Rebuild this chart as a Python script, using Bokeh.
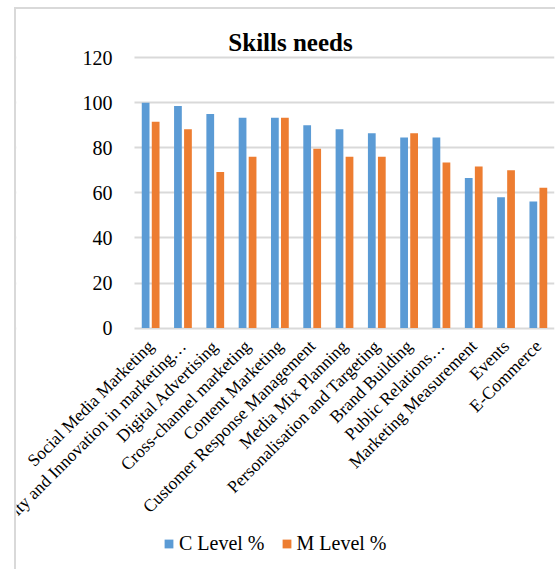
from bokeh.plotting import figure
from bokeh.models import (ColumnDataSource, Range1d, FixedTicker, Legend, LegendItem,
                          BoxAnnotation, Label)
from bokeh.embed import file_html
from bokeh.resources import INLINE
from math import pi

categories = [
    "Social Media Marketing",
    "Creativity and Innovation in marketing\u2026",
    "Digital Advertising",
    "Cross-channel marketing",
    "Content Marketing",
    "Customer Response Management",
    "Media Mix Planning",
    "Personalisation and Targeting",
    "Brand Building",
    "Public Relations\u2026",
    "Marketing Measurement",
    "Events",
    "E-Commerce",
]
c_level = [100, 98.5, 95, 93.3, 93.3, 90, 88.2, 86.4, 84.6, 84.6, 66.6, 58, 56.2]
m_level = [91.6, 88.2, 69.2, 76, 93.3, 79.6, 76, 76, 86.4, 73.5, 71.7, 70, 62.3]
y_ticks = [0, 20, 40, 60, 80, 100, 120]

FONT = "Liberation Serif"
BLUE = "#5B9BD5"
ORANGE = "#ED7D31"
GRID = "#d9d9d9"

# one slot per category, centred on its index
idx = list(range(len(categories)))
source = ColumnDataSource(dict(
    xc=[i - 0.155 for i in idx], xm=[i + 0.155 for i in idx],
    c=c_level, m=m_level,
))

# The plot area fills the whole canvas so that the title, the rotated
# category labels and the legend can all live inside it; both axes are
# pinned to the lower-left corner of the bar region (x = -0.5, y = 0).
p = figure(
    width=541, height=562,
    x_range=Range1d(-4.152, 12.5), y_range=Range1d(-108, 141.35),
    output_backend="svg", toolbar_location=None,
    min_border_left=0, min_border_right=3,
    min_border_top=0, min_border_bottom=0,
)
p.margin = (7, 0, 0, 14)
p.styles = {"border-left": "2px solid #d9d9d9", "border-top": "2px solid #d9d9d9"}
p.outline_line_color = None
p.background_fill_color = "white"
p.border_fill_color = "white"

p.xgrid.grid_line_color = None
p.ygrid.grid_line_color = GRID
p.ygrid.grid_line_width = 2

# keep the value grid lines inside the bar region
p.add_layout(BoxAnnotation(right=-0.5, fill_color="white", fill_alpha=1.0,
                           line_alpha=0, level="underlay"))

rc = p.vbar(x="xc", top="c", bottom=0, width=0.24,
            source=source, fill_color=BLUE, line_color=None)
rm = p.vbar(x="xm", top="m", bottom=0, width=0.24,
            source=source, fill_color=ORANGE, line_color=None)

# chart title
p.add_layout(Label(
    x=274, y=529, x_units="screen", y_units="screen",
    text="Skills needs", text_align="center", text_baseline="alphabetic",
    text_font=FONT, text_font_size="25px", text_font_style="bold",
    text_color="black",
))

# y axis
p.yaxis.fixed_location = -0.5
p.yaxis.ticker = FixedTicker(ticks=y_ticks)
p.yaxis.axis_line_color = None
p.yaxis.major_tick_line_color = None
p.yaxis.minor_tick_line_color = None
p.yaxis.major_label_text_font = FONT
p.yaxis.major_label_text_font_size = "20px"
p.yaxis.major_label_text_color = "black"
p.yaxis.major_label_standoff = 16

# category axis along the zero line
p.xaxis.fixed_location = 0
p.xaxis.ticker = FixedTicker(ticks=idx)
p.xaxis.major_label_overrides = {i: name for i, name in zip(idx, categories)}
p.xaxis.axis_line_color = None
p.xaxis.major_tick_line_color = None
p.xaxis.minor_tick_line_color = None
p.xaxis.major_label_orientation = pi / 4
p.xaxis.major_label_text_font = FONT
p.xaxis.major_label_text_font_size = "17.5px"
p.xaxis.major_label_text_color = "black"
p.xaxis.major_label_standoff = 9

legend = Legend(
    items=[LegendItem(label="C Level %", renderers=[rc]),
           LegendItem(label="M Level %", renderers=[rm])],
    orientation="horizontal",
    location=(147, 16),
    label_text_font=FONT,
    label_text_font_size="20px",
    label_text_color="black",
    glyph_width=11, glyph_height=11,
    label_standoff=5, spacing=16, padding=0, margin=0,
    border_line_color=None, background_fill_alpha=0,
)
p.add_layout(legend, "center")

open("out.html", "w").write(file_html(p, INLINE))
